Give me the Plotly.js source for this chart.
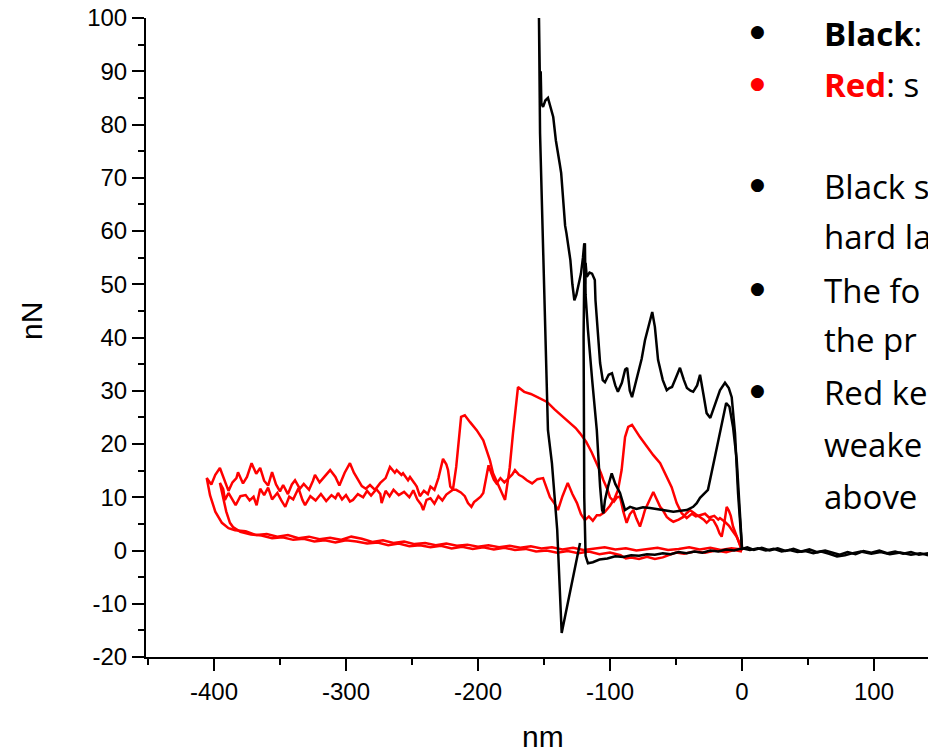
<!DOCTYPE html>
<html>
<head>
<meta charset="utf-8">
<script src="https://cdn.plot.ly/plotly-3.0.1.min.js"></script>
<style>html,body{margin:0;padding:0;background:#fff;overflow:hidden}#chart{width:928px;height:754px}</style>
</head>
<body>
<div id="chart"></div>
<script>
// ---------- tick labels ----------
const xTickVals = [-400, -300, -200, -100, 0, 100];
const xTickText = ['-400', '-300', '-200', '-100', '0', '100'];
const xMinorVals = [-450, -350, -250, -150, -50, 50];
const yTickVals = [-20, -10, 0, 10, 20, 30, 40, 50, 60, 70, 80, 90, 100];
const yTickText = ['-20', '-10', '0', '10', '20', '30', '40', '50', '60', '70', '80', '90', '100'];
const yMinorVals = [-15, -5, 5, 15, 25, 35, 45, 55, 65, 75, 85, 95];

// ---------- black curve 1: baseline + inner (approach) curve, [nm, nN] ----------
const blackBaseline = [[141,-0.9],[135,-0.5],[128,-0.8],[120,-0.4],[112,-0.7],[105,-0.3],[98,-0.6],[90,-0.2],[84,-0.5],[78,-0.9],[72,-1.1],[68,-0.7],[66,-0.6],[60,-0.2],[54,-0.5],[48,-0.1],[42,-0.3],[36,0.1],[30,-0.2],[24,0.3],[18,0.0],[12,0.4],[6,0.1],[0,0.4],[-6,0.0],[-12,0.2],[-18,-0.2],[-24,0.0],[-30,-0.4],[-36,-0.2],[-42,-0.5],[-48,-0.3],[-54,-0.7],[-60,-0.5],[-66,-0.8],[-72,-0.7],[-78,-1.0],[-84,-0.9],[-90,-1.2],[-96,-1.1],[-102,-1.5],[-108,-1.7],[-113,-2.2],[-116.7,-2.4]];
const blackInner = [[-118.5,-1.0],[-119.5,10],[-120,25],[-120,40],[-119.5,52],[-119,57.7],[-118.5,48],[-117.5,44],[-116.7,41.4],[-113.5,32],[-110,22.6],[-107.5,12],[-106,7.6],[-105,7],[-103.8,9.5],[-101.5,12],[-98.7,14.5],[-96,12.5],[-92.4,10.8],[-88.6,7.6],[-84.8,8.2],[-80,7.8],[-75,8.1],[-69.7,8],[-62,7.7],[-52,7.3],[-45,7.5],[-41.9,7.6],[-37,8.2],[-34.3,8.9],[-31.8,9.9],[-25.8,11.4],[-20.5,17.6],[-15.4,23.9],[-12,27.7],[-9.5,27],[-6.8,23.2],[-4,17],[-1.5,7],[0,0.5]];

// ---------- black curve 2: outer (retract) curve + its baseline ----------
const blackOuter = [[-122.7,1.4],[-129.5,-7],[-136.6,-15.5],[-140,3.9],[-144,16.4],[-147,22.6],[-149,41.4],[-150.7,58.3],[-151.7,69],[-153,78.4],[-153.8,100],[-153.5,92],[-153,86],[-152.5,90],[-152,84],[-150.7,83.3],[-149,84.5],[-147,85],[-145,83],[-143,81.4],[-141,77],[-140,75.2],[-138,72.5],[-137,70.9],[-135.6,65.8],[-134,61],[-133,59.6],[-131.5,57],[-130,54.5],[-128.5,50],[-127,47],[-125.5,48],[-124,49.5],[-122,52],[-120.5,55],[-119.5,57.7],[-119,50],[-118.5,54],[-117.6,51.4],[-115.5,52.2],[-113.6,52],[-111.5,50.8],[-111,47],[-110,43.3],[-108.5,38],[-107.5,35.2],[-105.5,32],[-103.8,31.6],[-101,33],[-98.5,33.3],[-96,31],[-94,29.8],[-91,31.5],[-88.5,34],[-87,34.3],[-85,30],[-83.3,28.8],[-80,32],[-76,36],[-73.5,39.5],[-70,43],[-68,44.8],[-66,42],[-63.6,35.8],[-60,32],[-57,30.1],[-55,30.5],[-53,30.7],[-50,32.5],[-47,34.3],[-44,32],[-41.7,30.5],[-39,30],[-37,29.8],[-34,31],[-31.8,33],[-29,29],[-26.8,25.8],[-24,24.9],[-20.5,27.3],[-16.7,30.1],[-12.9,31.5],[-10,30.5],[-7.8,28.8],[-5.3,22],[-3,10.8],[-1,3],[0,0.3]];
const blackBaseline2 = [[4,0.6],[9,0.1],[15,0.5],[21,0.0],[27,0.4],[33,-0.1],[39,0.3],[45,-0.2],[51,0.2],[57,-0.3],[63,0.0],[69,-0.4],[74,-0.8],[80,-0.3],[86,-0.7],[92,-0.1],[98,-0.4],[104,0.0],[110,-0.5],[116,-0.2],[122,-0.6],[128,-0.3],[134,-0.8],[141,-0.5]];

// ---------- red curve A ----------
const redBaseline1 = [[0,0.2],[-8,0.4],[-16,0.1],[-24,0.5],[-32,0.2],[-40,0.6],[-48,0.3],[-56,0.1],[-64,0.5],[-72,0.3],[-80,0.0],[-88,0.4],[-96,0.2],[-104,0.6],[-112,0.3],[-120,0.1],[-128,0.5],[-136,0.2],[-144,0.6],[-152,0.4],[-160,0.8],[-168,0.5],[-176,0.9],[-184,0.6],[-192,1.0],[-200,0.7],[-208,1.1],[-216,0.9],[-224,1.3],[-232,1.0],[-240,1.4],[-248,1.2],[-256,1.7],[-264,1.4],[-272,1.9],[-280,1.6],[-288,2.2],[-296,2.6],[-304,2.0],[-312,2.4],[-320,2.1],[-328,2.6],[-336,2.3],[-344,2.9],[-352,2.6],[-360,3.1],[-368,2.9],[-376,3.6],[-384,3.8],[-389,4.2],[-394,5.2],[-399,7.3],[-403,10.4],[-405.5,13.6]];
const redUpperBand = [[-402,12.4],[-399,14.2],[-395.5,15.5],[-392,13.2],[-389,11.2],[-386,12.8],[-383,13.6],[-381.8,14.7],[-378,12.6],[-375,13.8],[-371.5,16.4],[-368,14.4],[-365,15.5],[-362,13.1],[-359,12.2],[-356,14.7],[-353,12.4],[-350,11.1],[-347.6,12.3],[-344,10.6],[-341,12.4],[-338.6,13.2],[-335,11.6],[-332,12.5],[-328,11.4],[-325,13.1],[-323.5,14.2],[-320,12.8],[-316,13.9],[-312,15.1],[-308,13.8],[-305,12.2],[-301,14.6],[-297,16.4],[-294,14.6],[-291,13.2],[-288,12.1],[-285,11.6],[-281.8,12.3],[-278,11.4],[-274,12.7],[-270,13.6],[-266.7,15.7],[-263,14.6],[-261.6,15.1],[-258,14.2],[-256.8,14.5],[-253,13.2],[-251.5,13.8],[-248,12.6],[-246.4,12],[-244,10.2],[-241,11.2],[-238,10.6],[-236,12],[-233,11.4],[-230,13.6],[-226.5,17.2],[-224,16.2],[-222.7,15.1],[-221,12],[-219,11.4]];
const redPeaksA = [[-216.5,15.7],[-212.8,25.1],[-210,25.4],[-206,24.1],[-201,22.6],[-196,20.7],[-191,17],[-188.6,14.5],[-186,13.2],[-183,11.4],[-179.5,9.5],[-176,15.5],[-173.5,22],[-171,28.3],[-169.7,30.7],[-165,29.8],[-160,29.4],[-155,28.8],[-150,28.2],[-147.7,27.9],[-142,26.5],[-136,25.2],[-130,24],[-126,23],[-122.7,22],[-118,20.4],[-114,18.5],[-110,16.4],[-107,14.6],[-105,13.2],[-102,11.5],[-100,10]];
const redTailA = [[-97,9.2],[-94.7,10],[-92.4,10.1],[-90,7.4],[-87.4,5.2],[-85,6.8],[-82.3,7.6],[-80,6],[-77.3,4.5],[-75,6.3],[-73.5,7.6],[-70,9.5],[-67.2,11],[-65,9.8],[-62,8.2],[-60,7.6],[-57,6.3],[-54.5,5.8],[-52,5.4],[-48,5.8],[-44.4,6.3],[-42,7],[-39.4,7.6],[-35,6.8],[-31.8,6.3],[-29,5.8],[-26.8,5.2],[-24,5.9],[-21.7,5.7],[-19,4.5],[-17,3.2],[-15.4,2.6],[-13.5,5],[-11.6,8.2],[-10,7.5],[-8.5,6.5],[-6.8,4.5],[-5,3.4],[-3,2],[-1.5,1],[0,0]];

// ---------- red curve B ----------
const redBaseline2 = [[0,-0.2],[-6,0.1],[-12,-0.3],[-20,0.0],[-28,-0.4],[-36,-0.2],[-44,-0.6],[-50,-0.4],[-55,-0.8],[-60,-1.3],[-66,-1.6],[-72,-1.2],[-78,-1.6],[-84,-1.3],[-88,-1.5],[-92,-0.9],[-100,-0.4],[-108,-0.7],[-116,-0.2],[-124,-0.5],[-132,-0.1],[-140,-0.4],[-148,0.0],[-156,-0.2],[-164,0.3],[-172,0.1],[-180,0.5],[-188,0.2],[-196,0.6],[-204,0.3],[-212,0.7],[-220,0.4],[-228,0.9],[-236,0.6],[-244,1.0],[-252,0.8],[-260,1.3],[-268,1.0],[-276,1.5],[-284,1.3],[-292,1.7],[-300,1.9],[-308,1.5],[-316,1.9],[-324,1.7],[-332,2.2],[-340,2.0],[-348,2.5],[-356,2.3],[-364,2.8],[-372,3.0],[-380,3.5],[-385.6,4.4],[-387.9,5.2],[-390.7,7.3],[-393,9.8],[-395.5,12.7]];
const redLowerBand = [[-393,11.5],[-391.7,9.5],[-389,10.8],[-386,9.6],[-383.6,8.5],[-380,10.2],[-376,10.4],[-373,9.4],[-370,10.1],[-367.7,8.5],[-365,11.6],[-362,10.4],[-359,11.8],[-356,9.6],[-352,10.8],[-349,9.4],[-346,8.2],[-343,10.1],[-340,9.6],[-336,11.7],[-333,9.5],[-331,8.5],[-327,10.2],[-323,9.4],[-319,10.6],[-315,9.3],[-311,10.4],[-308,9.8],[-306,10.8],[-303,9.6],[-300,10.4],[-297,9.2],[-294.7,9.5],[-291,10.6],[-287,10],[-284,11.2],[-281,10.3],[-277,11.5],[-274,10.6],[-273,8.9],[-270,11.2],[-267,10.2],[-264,11.4],[-260,10.4],[-256,11],[-252,10],[-249,11.3],[-246,9.6],[-243,8.6],[-241.5,7.6],[-239,9.5],[-236,9.8],[-233,8.8],[-230,10.2],[-227,9.4],[-224,10.5],[-221,11.1],[-219,11.4],[-216.5,11.4],[-213,10.9],[-210,10.2],[-207.6,8.9],[-205,8.2],[-203,9.1],[-201,9.5],[-198,10.1],[-196,10.8],[-193.4,13.8],[-192,16],[-190,14.6],[-188,13.3],[-186,12.6],[-183,13.6],[-180,12.8],[-177,13.5],[-174,14.3],[-172,15.1],[-169,14.2],[-166,13.8],[-163,13.2],[-159,12.6],[-155,13.4],[-150.7,13.6],[-145.5,10],[-142,8.8],[-139.4,7.6],[-136,10.2],[-132,12.7],[-128.5,10.6],[-125,8.9],[-122,6.8],[-119,5.7],[-116,6.4],[-113,5.6],[-110,6.6],[-107.6,6.6],[-104,7.2],[-100,8.4],[-96.5,9.8],[-94,11.3]];
const redPeakB = [[-91.2,15.1],[-88.6,21.3],[-86.2,23.2],[-83.3,23.6],[-77.3,21.3],[-72.3,19.5],[-67.2,17.9],[-62,16.4],[-57,13.8],[-53.3,11.9],[-49.5,8.9],[-45.7,7],[-41.9,6.1],[-38,6.9],[-35,6.4],[-31.8,6.6],[-28,6.9],[-25,6.2],[-21,6.5],[-18,5.8],[-16.7,6.1],[-13,5.4],[-10,4.7],[-7,3.6],[-4,2.6],[-2,1.4],[0,0]];

// ---------- assemble traces ----------
function xs(){ return [].concat(...Array.from(arguments)).map(p => p[0]); }
function ys(){ return [].concat(...Array.from(arguments)).map(p => p[1]); }
const lineRed = {color: '#ff0000', width: 2.5};
const lineBlack = {color: '#000000', width: 2.5};
const traces = [
  {type:'scatter', mode:'lines', x: xs(redBaseline1, redUpperBand, redPeaksA, redTailA), y: ys(redBaseline1, redUpperBand, redPeaksA, redTailA), line: lineRed, hoverinfo:'skip'},
  {type:'scatter', mode:'lines', x: xs(redBaseline2, redLowerBand, redPeakB), y: ys(redBaseline2, redLowerBand, redPeakB), line: lineRed, hoverinfo:'skip'},
  {type:'scatter', mode:'lines', x: xs(blackBaseline, blackInner), y: ys(blackBaseline, blackInner), line: lineBlack, hoverinfo:'skip'},
  {type:'scatter', mode:'lines', x: xs(blackOuter, blackBaseline2), y: ys(blackOuter, blackBaseline2), line: lineBlack, hoverinfo:'skip'}
];

// ---------- layout geometry ----------
const W = 928, H = 754, L = 146, R = 0, T = 18, B = 97;
const px = v => (v - L) / (W - L - R);          // pixel x -> paper
const py = v => (H - B - v) / (H - T - B);      // pixel y -> paper

const tickFont = {family: 'Liberation Sans, Arial, sans-serif', size: 24, color: '#000'};
const noteFont = {family: '"Open Sans", sans-serif', size: 33, color: '#000'};
const bulletFont = {family: '"DejaVu Sans", sans-serif', size: 17, color: '#000'};

const notes = [
  {t: '<b>Black</b>:', y: 33},
  {t: '<b><span style="color:#ff0000">Red</span></b>: s', y: 84.5},
  {t: 'Black s', y: 186},
  {t: 'hard la', y: 237},
  {t: 'The fo', y: 291},
  {t: 'the pr', y: 340},
  {t: 'Red ke', y: 392.5},
  {t: 'weake', y: 444.5},
  {t: 'above', y: 496}
];
const bullets = [
  {y: 31, c: '#000'}, {y: 83, c: '#ff0000'}, {y: 184, c: '#000'}, {y: 288, c: '#000'}, {y: 390, c: '#000'}
];

const annotations = [];
notes.forEach(n => annotations.push({
  xref:'paper', yref:'paper', x: px(822), y: py(n.y), xanchor:'left', yanchor:'middle',
  text: n.t, showarrow:false, font: noteFont, align:'left'
}));
bullets.forEach(b => annotations.push({
  xref:'paper', yref:'paper', x: px(757.5), y: py(b.y), xanchor:'center', yanchor:'middle',
  text: '●', showarrow:false, font: Object.assign({}, bulletFont, {color: b.c})
}));
annotations.push({xref:'paper', yref:'paper', x: px(31), y: py(321), xanchor:'center', yanchor:'middle',
  text:'nN', textangle:-90, showarrow:false, font:{family:'Liberation Sans, Arial, sans-serif', size:30, color:'#000'}});
annotations.push({xref:'paper', yref:'paper', x: px(543), y: py(736), xanchor:'center', yanchor:'middle',
  text:'nm', showarrow:false, font:{family:'Liberation Sans, Arial, sans-serif', size:30, color:'#000'}});

const axisCommon = {
  showgrid:false, zeroline:false, showline:true, linecolor:'#000', linewidth:2,
  ticks:'outside', ticklen:12, tickwidth:2, tickcolor:'#000', tickfont: tickFont,
  tickmode:'array', fixedrange:true
};

const layout = {
  width: W, height: H,
  margin: {l: L, r: R, t: T, b: B, pad: 0},
  paper_bgcolor:'#fff', plot_bgcolor:'#fff', showlegend:false,
  xaxis: Object.assign({}, axisCommon, {
    range:[-451.5, 140.9], tickvals: xTickVals, ticktext: xTickText,
    minor:{tickmode:'array', tickvals: xMinorVals, ticks:'outside', ticklen:6, tickwidth:2, tickcolor:'#000', showgrid:false}
  }),
  yaxis: Object.assign({}, axisCommon, {
    range:[-20, 100], tickvals: yTickVals, ticktext: yTickText,
    minor:{tickmode:'array', tickvals: yMinorVals, ticks:'outside', ticklen:6, tickwidth:2, tickcolor:'#000', showgrid:false}
  }),
  annotations: annotations
};

Plotly.newPlot('chart', traces, layout, {displayModeBar:false, staticPlot:true});
</script>
</body>
</html>
